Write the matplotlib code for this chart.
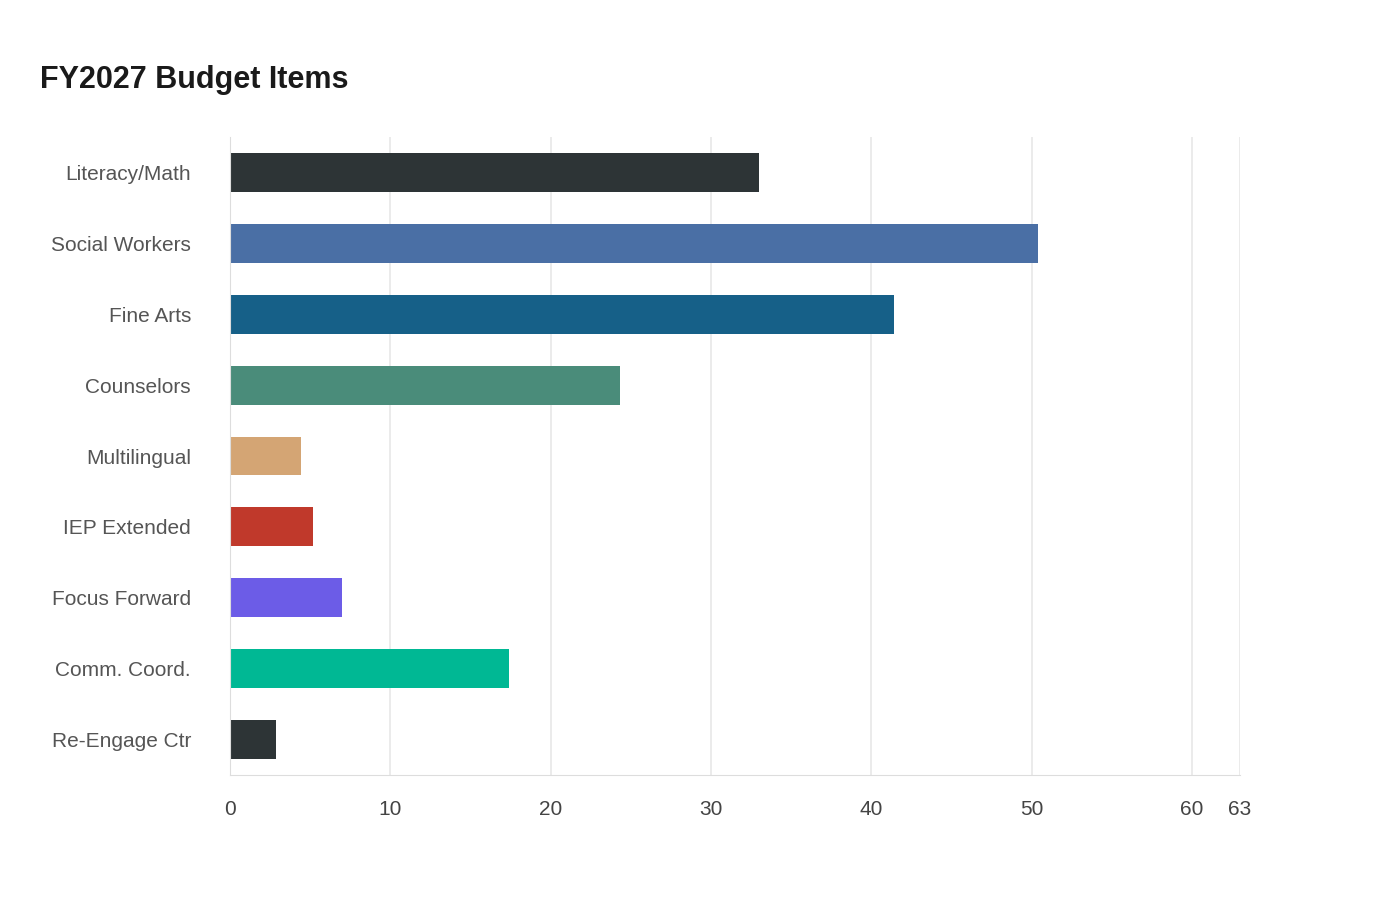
import matplotlib
matplotlib.use("Agg")
import matplotlib.pyplot as plt
from matplotlib.patches import FancyBboxPatch

categories = ["Literacy/Math", "Social Workers", "Fine Arts", "Counselors", "Multilingual",
              "IEP Extended", "Focus Forward", "Comm. Coord.", "Re-Engage Ctr"]
values = [33.0, 50.4, 41.4, 24.3, 4.4, 5.2, 7.0, 17.4, 2.9]
colors = ["#2d3436", "#4a6fa5", "#166088", "#4a8c7a", "#d4a574",
          "#c0392b", "#6c5ce7", "#00b894", "#2d3436"]
ticks = [0, 10, 20, 30, 40, 50, 60, 63]

plt.rcParams['font.family'] = ['Liberation Sans', 'DejaVu Sans']
fig = plt.figure(figsize=(14, 9), dpi=100)
ax = fig.add_axes([230/1400, 1-775/900, 1010/1400, (775-137)/900])
n = len(categories)
ys = list(range(n))
h = 0.55
for y, v, c in zip(ys, values, colors):
    ax.barh(y, v, height=h, color=c, zorder=2)
ax.set_ylim(n - 0.5, -0.5)
ax.set_xlim(0, 63)
ax.set_yticks(ys)
ax.set_yticklabels(categories, fontsize=15, color="#555555")
ax.set_xticks(ticks)
ax.set_xticklabels([str(t) for t in ticks], fontsize=15, color="#444444")
ax.tick_params(length=0, axis='y', pad=28)
ax.tick_params(length=0, axis='x', pad=18)
ax.grid(axis='x', color="#e8e8e8", linewidth=1.2, zorder=0)
for s in ["top", "right"]:
    ax.spines[s].set_visible(False)
for s in ["left", "bottom"]:
    ax.spines[s].set_color("#dddddd")
fig.text(40/1400, 1-80/900, "FY2027 Budget Items", fontsize=22, fontweight="bold",
         color="#1a1a1a", va="center")
fig.savefig("out.png", dpi=100)
